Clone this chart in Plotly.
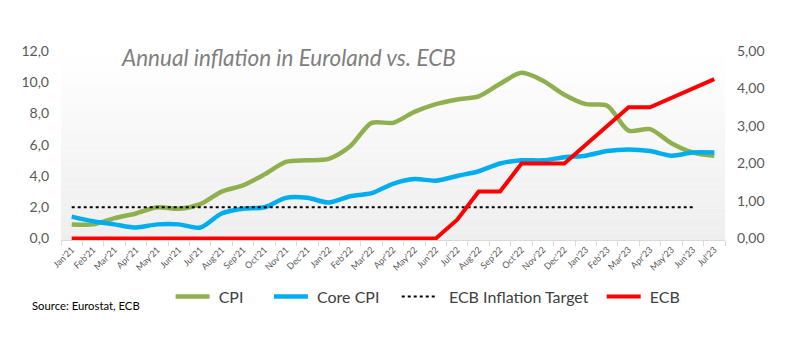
import plotly.graph_objects as go

months = ["Jan'21","Feb'21","Mar'21","Apr'21","May'21","Jun'21","Jul'21","Aug'21","Sep'21","Oct'21","Nov'21","Dec'21",
          "Jan'22","Feb'22","Mar'22","Apr'22","May'22","Jun'22","Jul'22","Aug'22","Sep'22","Oct'22","Nov'22","Dec'22",
          "Jan'23","Feb'23","Mar'23","Apr'23","May'23","Jun'23","Jul'23"]
cpi = [0.9,0.9,1.3,1.6,2.0,1.9,2.2,3.0,3.4,4.1,4.9,5.0,
       5.1,5.9,7.4,7.4,8.1,8.6,8.9,9.1,9.9,10.6,10.1,9.2,
       8.6,8.5,6.9,7.0,6.1,5.5,5.3]
core = [1.4,1.1,0.9,0.7,0.9,0.9,0.7,1.6,1.9,2.0,2.6,2.6,
        2.3,2.7,2.9,3.5,3.8,3.7,4.0,4.3,4.8,5.0,5.0,5.2,
        5.3,5.6,5.7,5.6,5.3,5.5,5.5]
target = [2.0]*30 + [None]
ecb = [0]*18 + [0.5,1.25,1.25,2.0,2.0,2.0,2.5,3.0,3.5,3.5,3.75,4.0,4.25]

left_ticks = [0,2,4,6,8,10,12]
left_text = ["0,0","2,0","4,0","6,0","8,0","10,0","12,0"]
right_ticks = [0,1,2,3,4,5]
right_text = ["0,00","1,00","2,00","3,00","4,00","5,00"]

FONT = "Lato, 'Open Sans', sans-serif"
NB = "\u00a0"

fig = go.Figure()
fig.add_trace(go.Scatter(x=months, y=cpi, name=NB + "CPI" + NB * 5, mode="lines",
                         line=dict(color="#8FB04F", width=4.5, shape="spline", smoothing=0.8)))
fig.add_trace(go.Scatter(x=months, y=core, name=NB + "Core CPI" + NB * 3, mode="lines",
                         line=dict(color="#00AEEF", width=4.5, shape="spline", smoothing=0.8)))
fig.add_trace(go.Scatter(x=months, y=target, name=NB * 2 + "ECB Inflation Target" + NB * 2, mode="lines",
                         line=dict(color="#000000", width=2, dash="dot")))
fig.add_trace(go.Scatter(x=months, y=ecb, name=NB + "ECB", mode="lines", yaxis="y2",
                         line=dict(color="#FF0000", width=4)))

# gradient background of plot area
n = 30
shapes = []
for i in range(n):
    t = i / (n - 1)
    c = int(round(255 - t * 17))
    shapes.append(dict(type="rect", xref="x domain", yref="y domain",
                       x0=0, x1=1, y0=1 - (i + 1) / n, y1=1 - i / n,
                       fillcolor=f"rgb({c},{c},{c})", line=dict(width=0), layer="below"))

fig.update_layout(
    width=789, height=343,
    margin=dict(l=61, r=64, t=51, b=103),
    paper_bgcolor="white", plot_bgcolor="white",
    font=dict(family=FONT, color="#595959"),
    shapes=shapes,
    showlegend=True,
    legend=dict(orientation="h", x=0.165, xanchor="left", y=-0.30, yanchor="middle",
                font=dict(size=16, color="#404040"), bgcolor="rgba(0,0,0,0)",
                itemwidth=34, traceorder="normal"),
    xaxis=dict(type="category", categoryorder="array", categoryarray=months,
               range=[-0.5, 30.5], tickson="boundaries", ticks="outside", ticklen=5,
               tickcolor="#d9d9d9", showline=True, linecolor="#d9d9d9", linewidth=1,
               tickangle=-45, tickfont=dict(size=9, color="#595959"), showgrid=False),
    yaxis=dict(range=[-0.1, 12], tickvals=left_ticks, ticktext=left_text, showgrid=False,
               zeroline=False, ticks="", ticklabelstandoff=11,
               tickfont=dict(size=14, color="#595959")),
    yaxis2=dict(range=[-0.1 * 5 / 12, 5], tickvals=right_ticks, ticktext=right_text,
                overlaying="y", side="right", showgrid=False, zeroline=False, ticks="",
                ticklabelstandoff=11, tickfont=dict(size=14, color="#595959")),
    annotations=[
        dict(text="Annual inflation in Euroland vs. ECB", xref="paper", yref="paper",
             x=0.087, y=0.965, xanchor="left", yanchor="middle", showarrow=False,
             font=dict(size=22.5, color="#7F7F7F", family=FONT, style="italic")),
        dict(text="Source: Eurostat, ECB", xref="paper", yref="paper",
             x=-0.046, y=-0.347, xanchor="left", yanchor="middle", showarrow=False,
             font=dict(size=11.3, color="#000000", family=FONT)),
    ],
)

fig.write_html("out.html")
